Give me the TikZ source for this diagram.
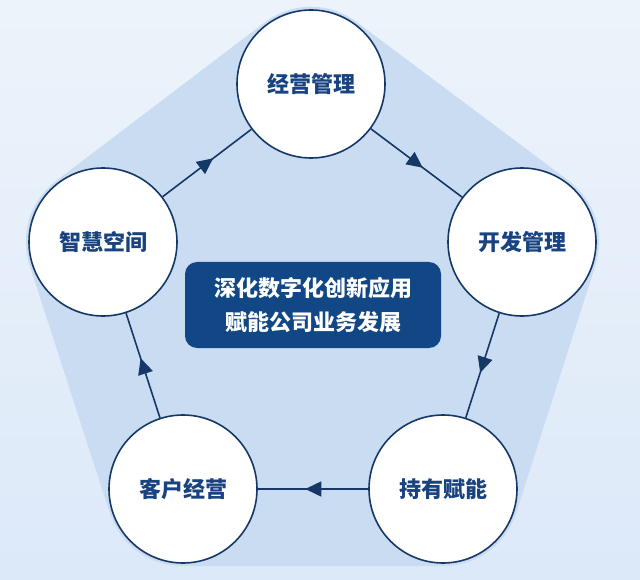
\documentclass[tikz,border=0pt]{standalone}
\usepackage{fontspec}
\newfontfamily\cjk{Noto Sans CJK SC}
\usetikzlibrary{arrows.meta,decorations.markings}
\definecolor{bgtop}{RGB}{237,243,250}
\definecolor{bgbot}{RGB}{220,233,249}
\definecolor{pent}{RGB}{202,220,242}
\definecolor{navy}{RGB}{22,56,102}
\definecolor{txtblue}{RGB}{24,66,128}
\definecolor{boxblue}{RGB}{17,71,132}
\begin{document}
\begin{tikzpicture}[x=1pt,y=-1pt,
  stage/.style={circle,draw=navy,line width=1.6pt,fill=white,minimum size=148pt,inner sep=0pt,
    font=\cjk\bfseries\fontsize{22}{26}\selectfont,text=txtblue},
  centerbox/.style={rectangle,rounded corners=12pt,fill=boxblue,minimum width=256pt,minimum height=86pt,
    inner sep=0pt,align=center,text=white,font=\cjk\bfseries\fontsize{22}{34}\selectfont},
  hull/.style={draw=pent,fill=pent,line width=154pt,line join=round},
  flow/.style={draw=navy,line width=1.6pt,postaction={decorate},
    decoration={markings,mark=at position 0.57 with {\arrow[navy]{Triangle[length=16pt,width=15pt]}}}}]
\useasboundingbox (0,0) rectangle (640,580);
\fill[top color=bgtop,bottom color=bgbot] (0,0) rectangle (640,580);
\coordinate (pjy) at (311,84);
\coordinate (pkf) at (522,242);
\coordinate (pcy) at (443,489);
\coordinate (pkh) at (183,489);
\coordinate (pzh) at (103,242);
\begin{scope}
\clip (0,0) rectangle (640,580);
\path[hull] (pjy) -- (pkf) -- (pcy) -- (pkh) -- (pzh) -- cycle;
\end{scope}
\node[stage] (jy) at (pjy) {经营管理};
\node[stage] (kf) at (pkf) {开发管理};
\node[stage] (cy) at (pcy) {持有赋能};
\node[stage] (kh) at (pkh) {客户经营};
\node[stage] (zh) at (pzh) {智慧空间};
\node[centerbox] (core) at (313,305) {深化数字化创新应用\\赋能公司业务发展};
\draw[flow] (zh) -- (jy);
\draw[flow] (jy) -- (kf);
\draw[flow] (kf) -- (cy);
\draw[flow] (cy) -- (kh);
\draw[flow] (kh) -- (zh);
\end{tikzpicture}
\end{document}
